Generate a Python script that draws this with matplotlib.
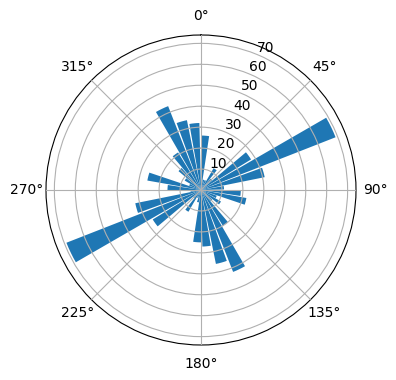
import numpy as np
import matplotlib
matplotlib.use("Agg")
import matplotlib.pyplot as plt

# 36 direction bins (degrees, clockwise from north) and bar lengths
directions_deg = list(range(0, 360, 10))
counts = [26, 5, 5, 12, 7, 28, 69, 31, 11, 19,
          22, 8, 11, 7, 20, 42, 36, 27, 25, 6,
          4, 12, 5, 27, 69, 32, 5, 16, 26, 6,
          9, 14, 21, 43, 34, 32]
r_ticks = [10, 20, 30, 40, 50, 60, 70]

fig = plt.figure(figsize=(3.96, 3.80), dpi=100)
ax = fig.add_axes([46/396, 35/380, 310/396, 310/380], projection='polar')
ax.set_theta_zero_location('N')
ax.set_theta_direction(-1)

theta = np.deg2rad(directions_deg)
width = np.deg2rad(10) * 0.86
ax.bar(theta, counts, width=width, align='edge', color='#1f77b4')

ax.set_ylim(0, 74)
ax.set_yticks(r_ticks)
ax.set_rlabel_position(22.5)
ax.grid(True)
ax.set_axisbelow(False)

fig.savefig('out.png', dpi=100)
